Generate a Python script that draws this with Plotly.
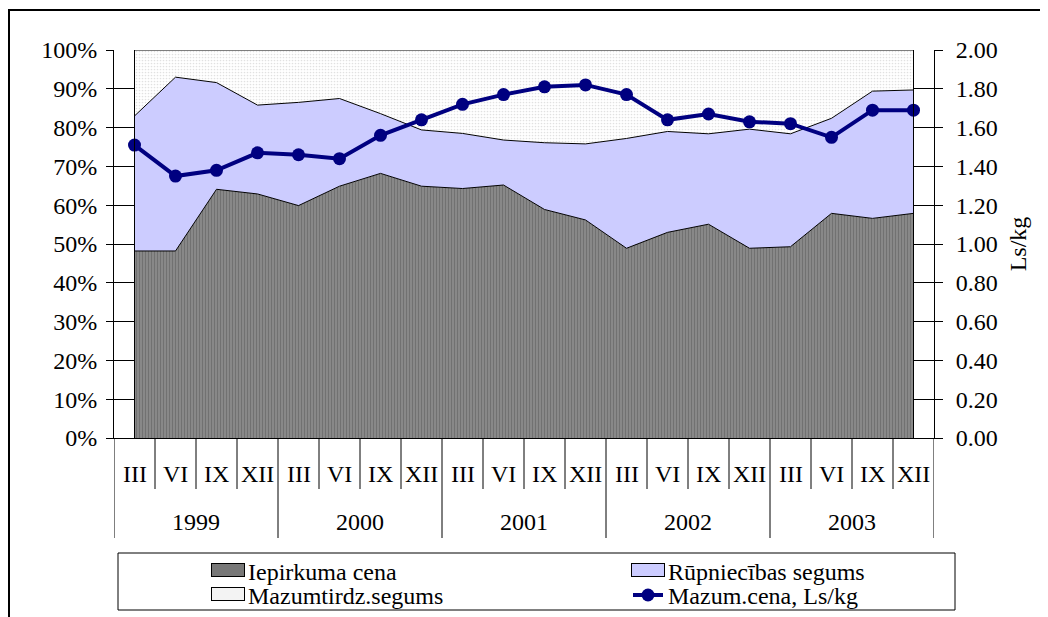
import plotly.graph_objects as go

# ---------------- data ----------------
years = ["1999", "2000", "2001", "2002", "2003"]
months = ["III", "VI", "IX", "XII"]
categories = [f"{m} {y}" for y in years for m in months]

iepirkuma = [48.2, 48.2, 64.1, 62.9, 59.9, 64.9, 68.2, 64.9, 64.3, 65.2,
             58.9, 56.2, 48.9, 53.0, 55.1, 48.9, 49.3, 57.9, 56.6, 57.9]
rupniecibas = [34.8, 44.8, 27.5, 22.9, 26.6, 22.6, 15.4, 14.5, 14.2, 11.6,
               17.2, 19.6, 28.3, 26.0, 23.3, 30.7, 29.1, 24.5, 32.8, 31.8]
mazumtirdz = [17.0, 7.0, 8.4, 14.2, 13.5, 12.5, 16.4, 20.6, 21.5, 23.2,
              23.9, 24.2, 22.8, 21.0, 21.6, 20.4, 21.6, 17.6, 10.6, 10.3]
mazum_cena = [1.51, 1.35, 1.38, 1.47, 1.46, 1.44, 1.56, 1.64, 1.72, 1.77,
              1.81, 1.82, 1.77, 1.64, 1.67, 1.63, 1.62, 1.55, 1.69, 1.69]

pct_ticks = list(range(0, 101, 10))
pct_labels = [f"{v}%" for v in pct_ticks]
price_ticks = [i / 5 for i in range(11)]
price_labels = [f"{v:.2f}" for v in price_ticks]

# ---------------- layout geometry ----------------
# The page body has an 8px default margin, so the figure is drawn 8px
# smaller and all reference pixel positions are offset accordingly.
BODY = 8
W, H = 1048 - BODY, 617 - BODY
PL, PR, PT, PB = 114, 934, 50, 438   # plot area in reference page pixels


def xp(px):
    return (px - PL) / (PR - PL)


def yp(py):
    return (PB - py) / (PB - PT)


FONT = "Liberation Serif"
FS = 24
LFS = 24

n = len(categories)
xs = list(range(n))

fig = go.Figure()

fig.add_trace(go.Scatter(
    x=xs, y=iepirkuma, name="Iepirkuma cena", stackgroup="one",
    mode="lines", line=dict(color="black", width=1),
    fillcolor="#8a8a8a",
    fillpattern=dict(shape="|", bgcolor="#8c8c8c", fgcolor="#555555",
                     size=3, solidity=0.45),
    legend="legend", hoverinfo="skip"))
fig.add_trace(go.Scatter(
    x=xs, y=rupniecibas, name="Rūpniecības segums", stackgroup="one",
    mode="lines", line=dict(color="black", width=1),
    fillcolor="#CCCCFF", legend="legend2", hoverinfo="skip"))
fig.add_trace(go.Scatter(
    x=xs, y=mazumtirdz, name="Mazumtirdz.segums", stackgroup="one",
    mode="lines", line=dict(color="black", width=1),
    fillcolor="#ffffff",
    fillpattern=dict(shape=".", bgcolor="#ffffff", fgcolor="#c4c4c4",
                     size=3, solidity=0.25),
    legend="legend3", hoverinfo="skip"))
fig.add_trace(go.Scatter(
    x=xs, y=mazum_cena, name="Mazum.cena, Ls/kg", yaxis="y2",
    mode="lines+markers", line=dict(color="#000080", width=4),
    marker=dict(color="#000080", size=13, symbol="circle"),
    legend="legend4", hoverinfo="skip"))

shapes = []
# edge outlines of the area block
for xe in (0, n - 1):
    shapes.append(dict(type="line", xref="x", yref="y", x0=xe, x1=xe,
                       y0=0, y1=100, line=dict(color="black", width=1)))
# category separators
for k in range(n + 1):
    is_year = (k % len(months) == 0)
    y_end = yp(538) if is_year else yp(489)
    shapes.append(dict(type="line", xref="x", yref="paper",
                       x0=k - 0.5, x1=k - 0.5, y0=0, y1=y_end,
                       line=dict(color="black", width=1)))
# legend box
shapes.append(dict(type="rect", xref="paper", yref="paper",
                   x0=xp(118), x1=xp(955), y0=yp(610), y1=yp(553),
                   line=dict(color="black", width=1), layer="below"))
# outer chart border
shapes.append(dict(type="rect", xref="paper", yref="paper",
                   x0=xp(9), x1=xp(1070), y0=yp(660), y1=yp(10),
                   line=dict(color="black", width=2), layer="below"))

annotations = []
for i, c in enumerate(categories):
    annotations.append(dict(x=i, y=yp(474), xref="x", yref="paper",
                            text=c.split()[0], showarrow=False,
                            font=dict(family=FONT, size=FS, color="black"),
                            xanchor="center", yanchor="middle"))
for j, yr in enumerate(years):
    xc = j * len(months) + (len(months) - 1) / 2
    annotations.append(dict(x=xc, y=yp(522), xref="x", yref="paper",
                            text=yr, showarrow=False,
                            font=dict(family=FONT, size=FS, color="black"),
                            xanchor="center", yanchor="middle"))

# legend rows / columns (reference pixels)
COL1, COL2 = 208, 628
ROW1, ROW2 = 570, 594

# boxed legend swatches (Excel style) for the area series
for cx, cy, col in ((COL1 + 20, ROW1, "#777777"),
                    (COL2 + 20, ROW1, "#CCCCFF"),
                    (COL1 + 20, ROW2, "#f3f3f3")):
    annotations.append(dict(x=xp(cx), y=yp(cy), xref="paper", yref="paper",
                            text=" ", showarrow=False, width=32, height=12,
                            borderpad=0, borderwidth=1, bordercolor="black",
                            bgcolor=col, xanchor="center", yanchor="middle"))

legend_common = dict(orientation="v", xanchor="left", yanchor="top",
                     bgcolor="rgba(0,0,0,0)", borderwidth=0,
                     font=dict(family=FONT, size=LFS, color="black"),
                     itemwidth=30)
row_h = LFS * 1.3 + 3


def legend_top(center_py):
    return yp(center_py - 5 - row_h / 2)


fig.update_layout(
    width=W, height=H,
    margin=dict(l=PL - BODY, r=W - (PR - BODY), t=PT - BODY,
                b=H - (PB - BODY), pad=0, autoexpand=False),
    paper_bgcolor="white", plot_bgcolor="white",
    font=dict(family=FONT, size=FS, color="black"),
    showlegend=True,
    xaxis=dict(range=[-0.5, n - 0.5], showticklabels=False, ticks="",
               showgrid=False, zeroline=False, showline=True,
               linecolor="black", linewidth=1, fixedrange=True),
    yaxis=dict(range=[0, 100], tickvals=pct_ticks, ticktext=pct_labels,
               ticks="outside", ticklen=7, tickcolor="black", tickwidth=1,
               ticklabelstandoff=4,
               showgrid=True, gridcolor="black", gridwidth=1,
               zeroline=False, showline=True, linecolor="black",
               linewidth=1, tickfont=dict(family=FONT, size=FS)),
    yaxis2=dict(range=[0, 2], tickvals=price_ticks, ticktext=price_labels,
                overlaying="y", side="right", anchor="x",
                ticks="outside", ticklen=8, tickcolor="black", tickwidth=1,
                ticklabelstandoff=8,
                showgrid=False, zeroline=False, showline=True,
                linecolor="black", linewidth=1,
                tickfont=dict(family=FONT, size=FS),
                title=dict(text="Ls/kg", font=dict(family=FONT, size=FS),
                           standoff=12)),
    legend=dict(x=xp(COL1), y=legend_top(ROW1 + 1), **legend_common),
    legend2=dict(x=xp(COL2), y=legend_top(ROW1 + 1), **legend_common),
    legend3=dict(x=xp(COL1), y=legend_top(ROW2 + 1), **legend_common),
    legend4=dict(x=xp(COL2), y=legend_top(ROW2 + 1), **legend_common),
    shapes=shapes,
    annotations=annotations,
)

fig.write_html("out.html")
